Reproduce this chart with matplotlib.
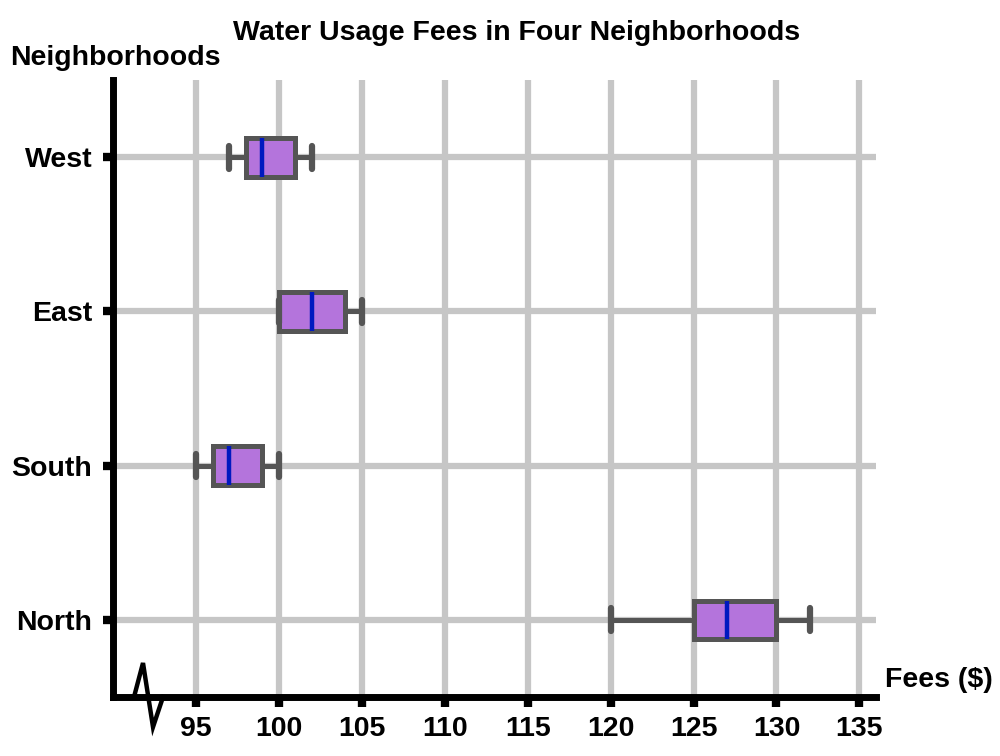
"""Box plot of water usage fees across four neighborhoods."""

import matplotlib

matplotlib.use("Agg")
import matplotlib.pyplot as plt
from matplotlib.lines import Line2D

plt.rcParams["font.family"] = ["Liberation Sans", "DejaVu Sans"]
plt.rcParams["font.weight"] = "bold"

NEIGHBORHOODS = ["North", "South", "East", "West"]
MINS = [120, 95, 100, 97]
Q1S = [125, 96, 100, 98]
MEDIANS = [127, 97, 102, 99]
Q3S = [130, 99, 104, 101]
MAXS = [132, 100, 105, 102]
X_TICKS = [95, 100, 105, 110, 115, 120, 125, 130, 135]

BOX_EDGE = "#555555"
BOX_FILL = "#b474dc"
MEDIAN = "#0019c0"
GRID = "#c6c6c6"
FS = 20.5

fig = plt.figure(figsize=(10, 7.56), dpi=100)
ax = fig.add_axes([0.113, 0.078, 0.763, 0.816])

stats = [
    {"whislo": lo, "q1": q1, "med": med, "q3": q3, "whishi": hi, "fliers": []}
    for lo, q1, med, q3, hi in zip(MINS, Q1S, MEDIANS, Q3S, MAXS)
]
positions = list(range(len(NEIGHBORHOODS)))
ax.bxp(
    stats,
    positions=positions,
    vert=False,
    widths=0.25,
    patch_artist=True,
    showfliers=False,
    boxprops={"facecolor": BOX_FILL, "edgecolor": BOX_EDGE, "linewidth": 3.6},
    whiskerprops={"color": BOX_EDGE, "linewidth": 3.6},
    capprops={"color": BOX_EDGE, "linewidth": 4.5, "solid_capstyle": "round"},
    medianprops={"color": MEDIAN, "linewidth": 3.2},
    capwidths=0.15,
    zorder=3,
)

ax.set_xlim(90.0, 136.0)
ax.set_ylim(-0.5, 3.5)
ax.set_xticks(X_TICKS)
ax.set_yticks(positions)
ax.set_yticklabels(NEIGHBORHOODS)
ax.grid(True, color=GRID, linewidth=4.5, zorder=0)
ax.set_axisbelow(True)

for side in ("top", "right"):
    ax.spines[side].set_visible(False)
for side in ("left", "bottom"):
    ax.spines[side].set_linewidth(5)
    ax.spines[side].set_color("black")
    ax.spines[side].set_capstyle("projecting")

ax.tick_params(axis="both", length=7, width=6, color="black", labelsize=FS)
ax.tick_params(axis="y", pad=8)
ax.tick_params(axis="x", pad=7)
for lbl in ax.get_xticklabels() + ax.get_yticklabels():
    lbl.set_fontweight("bold")

# axis break zigzag near the origin
zx = [134, 143, 153, 163]
zy = [697, 663, 727, 697]
fig.add_artist(
    Line2D(
        [x / 1000 for x in zx],
        [1 - y / 756 for y in zy],
        color="black",
        linewidth=3.2,
        transform=fig.transFigure,
        solid_joinstyle="miter",
    )
)

fig.text(0.517, 0.957, "Water Usage Fees in Four Neighborhoods", ha="center", va="center",
         fontsize=FS, fontweight="bold")
fig.text(0.01, 0.923, "Neighborhoods", ha="left", va="center", fontsize=FS, fontweight="bold")
fig.text(0.885, 0.10, "Fees ($)", ha="left", va="center", fontsize=FS, fontweight="bold")

fig.savefig("out.png", dpi=100, facecolor="white")
plt.close(fig)
